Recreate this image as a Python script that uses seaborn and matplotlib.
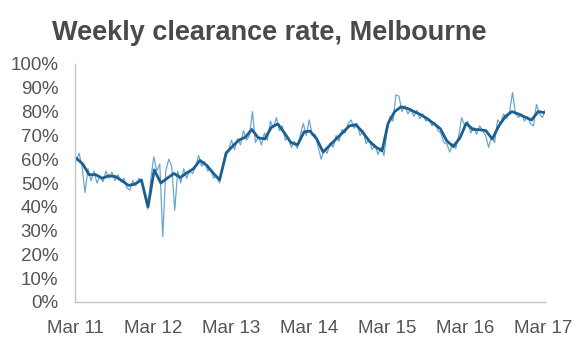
import numpy as np
import pandas as pd
import matplotlib
matplotlib.use("Agg")
import matplotlib.pyplot as plt
import seaborn as sns

# ---------------- data ----------------
# weekly (sampled fortnightly) clearance rate, %
raw_values = [
    59, 62.5, 57, 46, 56, 51, 55, 50, 53, 50.5, 55, 52, 54.5, 51, 53.5, 50.5, 52, 48, 47, 51,
    49, 52, 50, 44, 39, 52, 61, 55, 58, 27.5, 55, 60, 57, 38.5, 55, 50, 56, 52, 55, 54,
    57, 61.5, 57, 59, 55, 56, 52, 53, 50, 57, 63, 64, 68, 64, 68.5, 66, 72, 68, 70, 80,
    67, 69.5, 66, 71, 68, 76, 73, 77.5, 72, 74, 68, 69, 65, 67.5, 64.5, 70, 75, 70, 76.5, 70,
    70.5, 65, 60, 64, 62.5, 67, 65, 70, 67.5, 72.5, 71, 75, 76.5, 73, 75, 70, 72, 66.5, 68.5, 64,
    66, 62, 65, 61.5, 72, 78, 76, 87, 86.5, 80, 82.5, 79, 81, 78, 80.5, 77, 79, 76, 77, 74,
    75.5, 72, 71, 67, 66.5, 63, 66.5, 64.5, 70, 77.5, 74, 76, 71, 73.5, 70.5, 74, 72, 70, 65, 69.5,
    67, 76.5, 75, 79, 77, 80, 88, 79, 77.5, 79, 76, 78, 75, 74, 83, 79, 77.5, 81,
]
# smoothed trend, monthly
trend_values = [
    60.5, 58, 53.5, 53.5, 52, 53, 52.7, 51, 49, 49.5, 51.3, 40, 55.5, 50, 52, 54, 52.3, 54.3,
    56, 59.5, 57.5, 54.3, 51.3, 62.5, 65.3, 68, 69.2, 72.5, 69, 68.5, 73.5, 74.8, 71, 67, 66,
    71.5, 71.8, 68.5, 63, 65.8, 68.5, 71.2, 74, 74.5, 71.5, 67.8, 65.2, 63.5, 75, 80, 82,
    81.3, 80, 78.7, 77, 75, 72.8, 67.7, 65.3, 69, 75.1, 72.5, 72.4, 72, 68.5, 74, 78, 80,
    79, 77.7, 76.5, 80, 79.6,
]
raw_dates = pd.date_range("2011-03-06", periods=len(raw_values), freq="14D")
trend_dates = pd.date_range("2011-03-01", periods=len(trend_values), freq="MS") + pd.Timedelta(days=5)
tick_labels = ["Mar 11", "Mar 12", "Mar 13", "Mar 14", "Mar 15", "Mar 16", "Mar 17"]
tick_dates = pd.date_range("2011-03-01", periods=len(tick_labels), freq="12MS")
y_ticks = list(range(0, 101, 10))

raw_df = pd.DataFrame({"date": raw_dates, "rate": raw_values})
trend_df = pd.DataFrame({"date": trend_dates, "rate": trend_values})

# ---------------- style ----------------
sns.set_style("white")
plt.rcParams["font.family"] = ["Liberation Sans", "DejaVu Sans"]

fig = plt.figure(figsize=(5.8, 3.52), dpi=100)
ax = fig.add_axes([75 / 580, 1 - 302 / 352, 470 / 580, 238 / 352])

sns.lineplot(data=raw_df, x="date", y="rate", ax=ax, color="#6aa6cf", linewidth=0.9)
sns.lineplot(data=trend_df, x="date", y="rate", ax=ax, color="#1d5f8e", linewidth=2.0)

ax.set_xlim(pd.Timestamp("2011-03-01"), pd.Timestamp("2017-03-10"))
ax.set_ylim(0, 100)
ax.set_xticks(tick_dates)
ax.set_xticklabels(tick_labels)
ax.set_yticks(y_ticks)
ax.set_yticklabels([f"{v}%" for v in y_ticks])
ax.set_xlabel("")
ax.set_ylabel("")

for s in ["top", "right"]:
    ax.spines[s].set_visible(False)
for s in ["left", "bottom"]:
    ax.spines[s].set_color("#c4c4c4")
    ax.spines[s].set_linewidth(1.0)
ax.tick_params(axis="both", which="major", direction="out", length=4, width=1.0,
               color="#c4c4c4", labelcolor="#555555", labelsize=13.5)
ax.tick_params(axis="y", pad=8)
ax.tick_params(axis="x", pad=9)
ax.grid(False)

fig.text(52 / 580, 1 - 40 / 352, "Weekly clearance rate, Melbourne", fontsize=19.5,
         fontweight="bold", color="#4a4a4a", ha="left", va="baseline")

fig.savefig("out.png", dpi=100, facecolor="white")
